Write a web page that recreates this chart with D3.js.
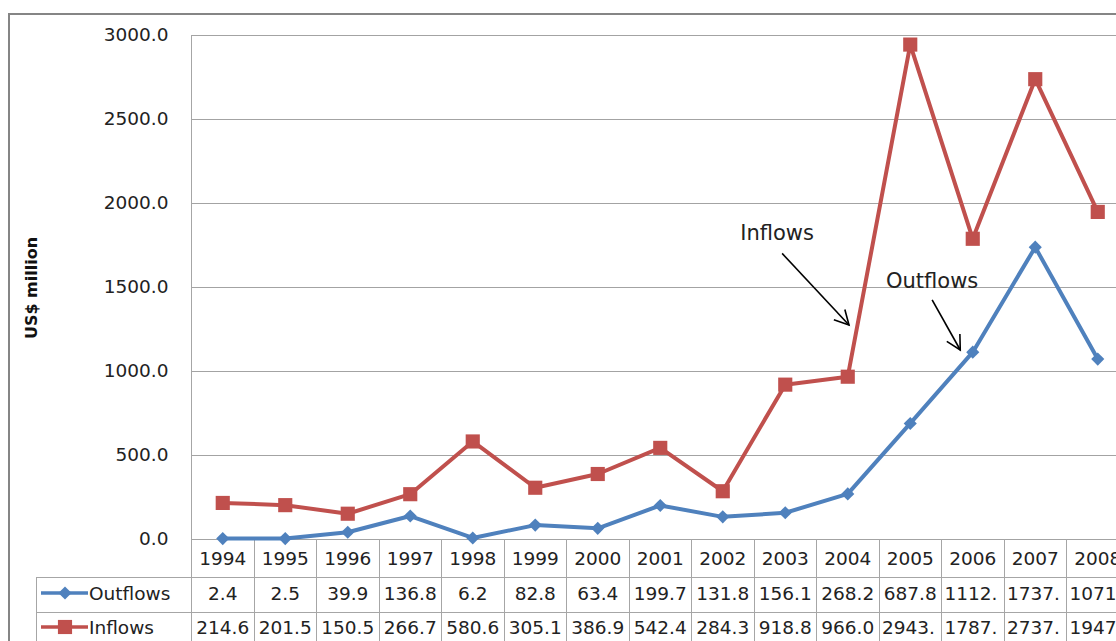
<!DOCTYPE html>
<html>
<head>
<meta charset="utf-8">
<script src="https://cdn.jsdelivr.net/npm/d3@7"></script>
<style>
  html, body { margin: 0; padding: 0; background: #fff; overflow: hidden; }
  svg { display: block; font-family: "DejaVu Sans", sans-serif; }
</style>
</head>
<body>
<svg id="chart" width="1116" height="641"></svg>
<script>
// Foreign direct investment flows, US$ million
const years = ["1994","1995","1996","1997","1998","1999","2000","2001","2002","2003","2004","2005","2006","2007","2008"];
const outflows = [2.4, 2.5, 39.9, 136.8, 6.2, 82.8, 63.4, 199.7, 131.8, 156.1, 268.2, 687.8, 1112.0, 1737.0, 1071.0];
const inflows  = [214.6, 201.5, 150.5, 266.7, 580.6, 305.1, 386.9, 542.4, 284.3, 918.8, 966.0, 2943.0, 1787.0, 2737.0, 1947.0];
const yTicks = [0, 500, 1000, 1500, 2000, 2500, 3000];
const seriesNames = ["Outflows", "Inflows"];

// Callout labels, placed in category-index / value units
const callouts = [
  { text: "Inflows",  label: [8.87, 1780], from: [8.95, 1700], to: [10.02, 1274] },
  { text: "Outflows", label: [11.35, 1492], from: [11.35, 1423], to: [11.80, 1125] }
];

const svg = d3.select("#chart");
const W = 1116, H = 641;

const plotLeft = 191.5, plotTop = 35, plotBottom = 539, band = 62.5;
const plotRight = plotLeft + band * years.length;

const x = d3.scaleBand().domain(years).range([plotLeft, plotRight]).padding(0);
const y = d3.scaleLinear().domain([0, 3000]).range([plotBottom, plotTop]);
const xi = d3.scaleLinear().domain([0, years.length - 1])
  .range([x(years[0]) + band / 2, x(years[years.length - 1]) + band / 2]);

const gridColor = "#a3a3a3";
const tableColor = "#a6a6a6";
const fontSize = 18.5;
const colors = { Outflows: "#4f81bd", Inflows: "#c0504d" };

// outer chart frame
svg.append("path")
  .attr("d", `M9,${H + 2} L9,14 L${W + 2},14`)
  .attr("fill", "none").attr("stroke", "#858585").attr("stroke-width", 2);

// value axis with horizontal gridlines
const yAxis = d3.axisLeft(y)
  .tickValues(yTicks)
  .tickSize(-(plotRight - plotLeft))
  .tickPadding(23)
  .tickFormat(d3.format(".1f"));
const gy = svg.append("g").attr("transform", `translate(${plotLeft},0)`).call(yAxis);
gy.select(".domain").remove();
gy.selectAll(".tick line").attr("stroke", gridColor).attr("stroke-width", 1).attr("shape-rendering", "crispEdges");
gy.selectAll(".tick text")
  .attr("font-family", "DejaVu Sans").attr("font-size", fontSize).attr("fill", "#222");

// axis title
svg.append("text")
  .attr("transform", `translate(37,288) rotate(-90)`)
  .attr("text-anchor", "middle")
  .attr("font-family", "DejaVu Sans").attr("font-weight", "bold")
  .attr("font-size", 16).attr("fill", "#111")
  .text("US$ million");

// data table below the plot
const rowYear = [plotBottom, 577], rowOut = [577, 612], rowIn = [612, 648];
const legendLeft = 36;
const table = svg.append("g").attr("stroke", tableColor).attr("stroke-width", 1).attr("shape-rendering", "crispEdges");
// vertical axis line continues as the table's left border
table.append("line").attr("x1", plotLeft).attr("x2", plotLeft).attr("y1", plotTop).attr("y2", rowIn[1]);
years.forEach(yr => {
  const xr = x(yr) + band;
  table.append("line").attr("x1", xr).attr("x2", xr).attr("y1", rowYear[0]).attr("y2", rowIn[1]);
});
table.append("line").attr("x1", legendLeft).attr("x2", legendLeft).attr("y1", rowOut[0]).attr("y2", rowIn[1]);
table.append("line").attr("x1", legendLeft).attr("x2", plotRight).attr("y1", rowOut[0]).attr("y2", rowOut[0]);
table.append("line").attr("x1", legendLeft).attr("x2", plotRight).attr("y1", rowIn[0]).attr("y2", rowIn[0]);

const cellText = svg.append("g")
  .attr("font-family", "DejaVu Sans").attr("font-size", fontSize).attr("fill", "#222");

// cell text: centred when it fits, otherwise cut to whole characters and left-aligned
function putCell(str, yr, mid) {
  const x0 = x(yr), maxW = band - 5;
  const t = cellText.append("text").attr("y", mid).attr("dy", "0.35em").text(str);
  let s = str;
  if (t.node().getComputedTextLength() > maxW) {
    while (s.length > 1 && t.node().getComputedTextLength() > maxW) {
      s = s.slice(0, -1);
      t.text(s);
    }
    t.attr("x", x0 + 3).attr("text-anchor", "start");
  } else {
    t.attr("x", x0 + band / 2).attr("text-anchor", "middle");
  }
}
years.forEach((yr, i) => {
  putCell(yr, yr, 559);
  putCell(outflows[i].toFixed(1), yr, 594);
  putCell(inflows[i].toFixed(1), yr, 628);
});

// marker shapes
const diamond = d3.symbol().type(d3.symbolDiamond2).size(110);
const square = d3.symbol().type(d3.symbolSquare).size(200);
const markerOf = { Outflows: diamond, Inflows: square };

// legend keys inside the table
[["Outflows", 594], ["Inflows", 628]].forEach(([name, cy]) => {
  const g = svg.append("g");
  g.append("line").attr("x1", 41).attr("x2", 88).attr("y1", cy - 1).attr("y2", cy - 1)
    .attr("stroke", colors[name]).attr("stroke-width", 3.5);
  g.append("path").attr("d", markerOf[name]()).attr("transform", `translate(65,${cy - 1})`)
    .attr("fill", colors[name]);
  g.append("text").attr("x", 89).attr("y", cy).attr("dy", "0.35em")
    .attr("font-family", "DejaVu Sans").attr("font-size", fontSize).attr("fill", "#222")
    .text(name);
});

// series lines and markers
const line = d3.line().x((d, i) => x(years[i]) + band / 2).y(d => y(d));
[["Inflows", inflows], ["Outflows", outflows]].forEach(([name, vals]) => {
  svg.append("path").datum(vals).attr("d", line)
    .attr("fill", "none").attr("stroke", colors[name]).attr("stroke-width", 4)
    .attr("stroke-linejoin", "round");
  svg.append("g").selectAll("path").data(vals).join("path")
    .attr("d", markerOf[name]())
    .attr("transform", (d, i) => `translate(${x(years[i]) + band / 2},${y(d)})`)
    .attr("fill", colors[name]);
});

// callout labels with open arrowheads
const ann = svg.append("g");
callouts.forEach(c => {
  const [lx, ly] = [xi(c.label[0]), y(c.label[1])];
  const [x1, y1] = [xi(c.from[0]), y(c.from[1])];
  const [x2, y2] = [xi(c.to[0]), y(c.to[1])];
  ann.append("text").attr("x", lx).attr("y", ly).attr("text-anchor", "middle")
    .attr("font-family", "DejaVu Sans").attr("font-size", 21).attr("fill", "#222")
    .text(c.text);
  ann.append("line").attr("x1", x1).attr("y1", y1).attr("x2", x2).attr("y2", y2)
    .attr("stroke", "#000").attr("stroke-width", 1.6);
  const back = Math.atan2(y1 - y2, x1 - x2), arm = 16, spread = 28 * Math.PI / 180;
  const p1 = [x2 + arm * Math.cos(back - spread), y2 + arm * Math.sin(back - spread)];
  const p2 = [x2 + arm * Math.cos(back + spread), y2 + arm * Math.sin(back + spread)];
  ann.append("path").attr("d", `M${p1[0]},${p1[1]} L${x2},${y2} L${p2[0]},${p2[1]}`)
    .attr("fill", "none").attr("stroke", "#000").attr("stroke-width", 1.6);
});
</script>
</body>
</html>
